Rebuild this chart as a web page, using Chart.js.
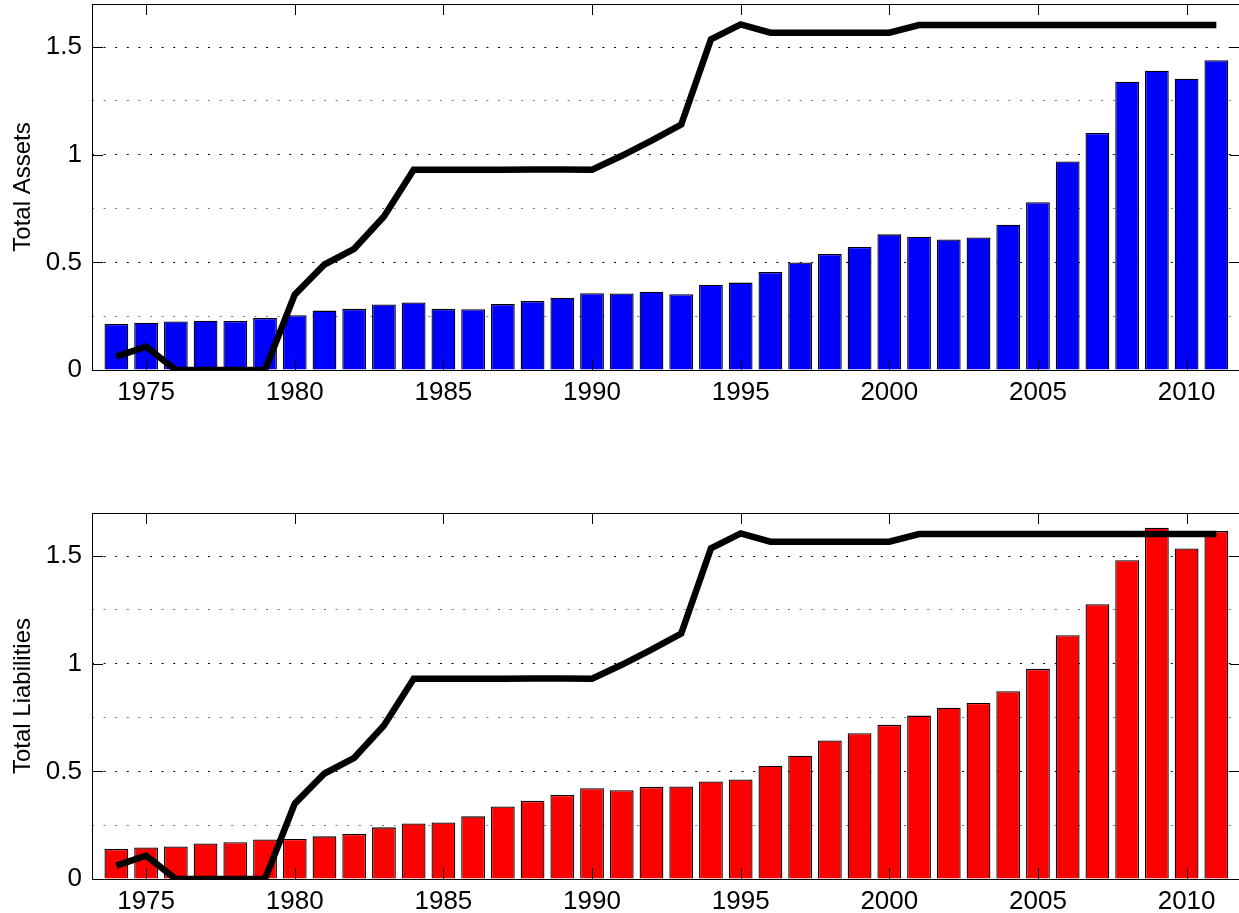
<!DOCTYPE html>
<html>
<head>
<meta charset="utf-8">
<script src="https://cdn.jsdelivr.net/npm/chart.js@4"></script>
<style>
  html, body { margin: 0; padding: 0; background: #fff; overflow: hidden; }
  .panel { position: absolute; left: 0; width: 1243px; height: 404px; }
</style>
</head>
<body>
<div class="panel" style="top:0"><canvas id="assetsChart"></canvas></div>
<div class="panel" style="top:509px"><canvas id="liabChart"></canvas></div>
<script>
// data
const years = [1974,1975,1976,1977,1978,1979,1980,1981,1982,1983,1984,1985,1986,1987,1988,1989,1990,1991,1992,1993,
               1994,1995,1996,1997,1998,1999,2000,2001,2002,2003,2004,2005,2006,2007,2008,2009,2010,2011];
const totalAssets = [0.214,0.220,0.225,0.229,0.228,0.242,0.254,0.276,0.284,0.304,0.314,0.284,0.282,0.306,0.320,0.336,0.357,0.355,0.364,0.352,
                     0.396,0.406,0.455,0.499,0.539,0.571,0.630,0.619,0.606,0.616,0.675,0.779,0.969,1.101,1.339,1.390,1.353,1.439];
const totalLiabilities = [0.139,0.146,0.151,0.165,0.171,0.184,0.186,0.198,0.209,0.240,0.258,0.263,0.291,0.337,0.363,0.390,0.422,0.412,0.428,0.430,
                          0.453,0.462,0.526,0.573,0.643,0.677,0.716,0.759,0.796,0.818,0.872,0.976,1.132,1.276,1.481,1.632,1.535,1.616];
const indexLine = [0.062,0.108,0,0,0,0,0.350,0.490,0.563,0.713,0.930,0.930,0.930,0.930,0.931,0.931,0.930,0.995,1.065,1.140,
                   1.536,1.605,1.567,1.567,1.567,1.567,1.567,1.602,1.602,1.602,1.602,1.602,1.602,1.602,1.602,1.602,1.602,1.602];
const xTicks = [1975,1980,1985,1990,1995,2000,2005,2010];
const yTicks = [0,0.25,0.5,0.75,1,1.25,1.5];

const FONT = "'Liberation Sans', Arial, Helvetica, sans-serif";
const isMajor = v => Math.abs(v*2 - Math.round(v*2)) < 1e-6;

// MATLAB-like box with inward ticks
const boxTicks = {
  id: 'boxTicks',
  afterDraw(chart) {
    const {ctx, chartArea: a, scales: {x, y}} = chart;
    const tl = 11;
    ctx.save();
    ctx.strokeStyle = '#000';
    ctx.lineWidth = 1;
    ctx.strokeRect(Math.round(a.left)+0.5, Math.round(a.top)+0.5, Math.round(a.right-a.left), Math.round(a.bottom-a.top));
    ctx.beginPath();
    x.ticks.forEach(t => {
      const px = Math.round(x.getPixelForValue(t.value)) + 0.5;
      ctx.moveTo(px, a.bottom); ctx.lineTo(px, a.bottom - tl);
      ctx.moveTo(px, a.top); ctx.lineTo(px, a.top + tl);
    });
    y.ticks.forEach(t => {
      if (!isMajor(t.value)) return;
      const py = Math.round(y.getPixelForValue(t.value)) + 0.5;
      ctx.moveTo(a.left, py); ctx.lineTo(a.left + tl, py);
      ctx.moveTo(a.right, py); ctx.lineTo(a.right - tl, py);
    });
    ctx.stroke();
    ctx.restore();
  }
};

function makeChart(canvasId, values, color, label) {
  const barData = years.map((yr, i) => ({x: yr, y: values[i]}));
  const lineData = years.map((yr, i) => ({x: yr, y: indexLine[i]}));
  return new Chart(document.getElementById(canvasId), {
    type: 'bar',
    plugins: [boxTicks],
    data: {
      datasets: [
        {
          type: 'line',
          data: lineData,
          borderColor: '#000',
          borderWidth: 6.5,
          borderCapStyle: 'butt',
          borderJoinStyle: 'miter',
          pointRadius: 0,
          tension: 0,
          fill: false,
          clip: 0,
          order: 0
        },
        {
          type: 'bar',
          data: barData,
          backgroundColor: color,
          borderColor: '#000',
          borderWidth: 1.3,
          barPercentage: 0.8,
          categoryPercentage: 1.0,
          order: 1
        }
      ]
    },
    options: {
      responsive: true,
      maintainAspectRatio: false,
      animation: false,
      layout: { padding: { top: 4, right: 2, left: 0, bottom: 0 } },
      plugins: { legend: { display: false }, tooltip: { enabled: false } },
      scales: {
        x: {
          type: 'linear',
          min: 1973.18,
          max: 2011.83,
          offset: false,
          afterBuildTicks: axis => { axis.ticks = xTicks.map(v => ({value: v})); },
          afterFit: axis => { axis.height = 34; axis.paddingLeft = 0; axis.paddingRight = 0; },
          grid: { display: false, offset: false, drawTicks: false },
          border: { display: false },
          ticks: {
            callback: v => String(v),
            color: '#000',
            padding: 7,
            maxRotation: 0,
            autoSkip: false,
            font: { family: FONT, size: 26 }
          }
        },
        y: {
          type: 'linear',
          min: 0,
          max: 1.7,
          afterBuildTicks: axis => { axis.ticks = yTicks.map(v => ({value: v})); },
          afterFit: axis => { axis.width = 92; axis.paddingTop = 0; axis.paddingBottom = 0; },
          grid: {
            drawTicks: false,
            lineWidth: 1,
            color: c => isMajor(c.tick.value) ? '#000' : '#777'
          },
          border: { display: false, dash: [2, 9.6] },
          ticks: {
            callback: v => isMajor(v) ? String(v) : '',
            color: '#000',
            padding: 10,
            autoSkip: false,
            font: { family: FONT, size: 26 }
          },
          title: {
            display: true,
            text: label,
            color: '#000',
            padding: { top: 9, bottom: 0 },
            font: { family: FONT, size: 24 }
          }
        }
      }
    }
  });
}

makeChart('assetsChart', totalAssets, '#0000ff', 'Total Assets');
makeChart('liabChart', totalLiabilities, '#ff0000', 'Total Liabilities');
</script>
</body>
</html>
